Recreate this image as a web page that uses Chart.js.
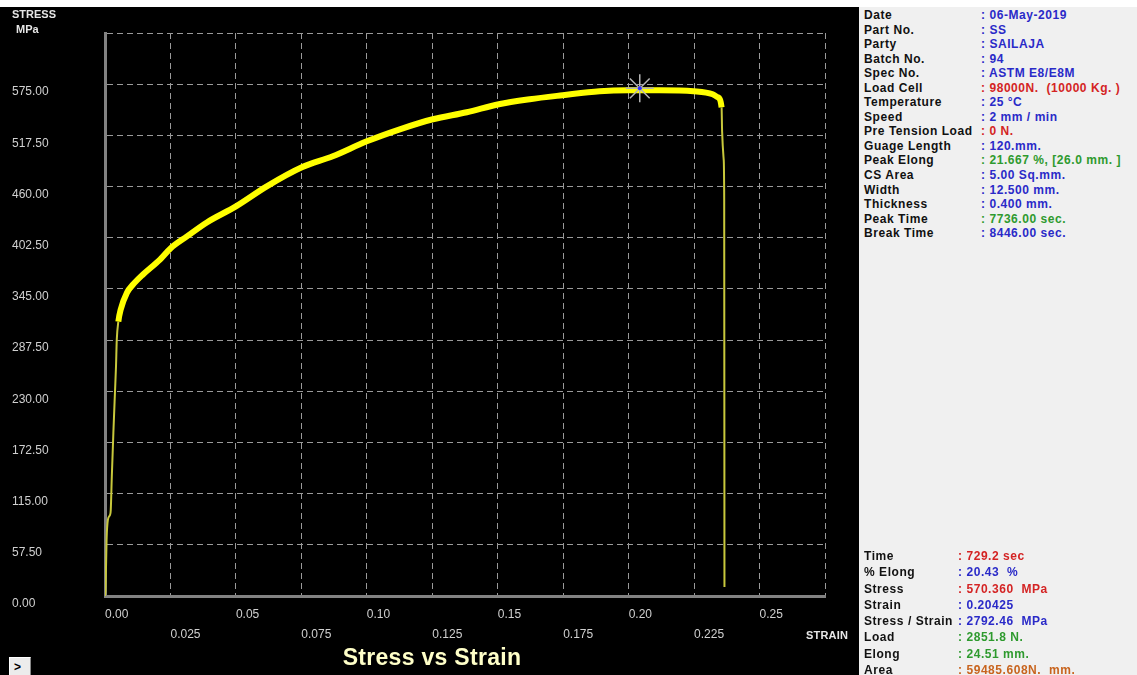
<!DOCTYPE html>
<html>
<head>
<meta charset="utf-8">
<script src="https://cdn.jsdelivr.net/npm/chart.js@4.4.1/dist/chart.umd.min.js"></script>
<style>
  html, body { margin: 0; padding: 0; background: #000; width: 1137px; height: 675px; overflow: hidden; }
  body { position: relative; font-family: "Liberation Sans", Arial, sans-serif; }
  #topstrip { position: absolute; left: 0; top: 0; width: 1137px; height: 7px; background: #fff; }
  #wrap { position: absolute; left: 0; top: 7px; width: 857px; height: 668px; background: #000; }
  .lbl { position: absolute; font-weight: bold; color: #e6e6e6; font-size: 11px; line-height: 12px; white-space: nowrap; }
  #title { position: absolute; left: 232px; width: 400px; top: 644px; text-align: center; font-size: 23px; font-weight: bold; color: #ffffc8; line-height: 26px; letter-spacing: 0.3px; }
  #btn { position: absolute; left: 9px; top: 657px; width: 22px; height: 18px; background: #ececec; border-top: 1px solid #fff; border-left: 1px solid #fff; border-right: 1px solid #888; font-weight: bold; font-size: 12px; line-height: 18px; padding-left: 4px; box-sizing: border-box; color: #000; }
  #panel { position: absolute; left: 859px; top: 7px; width: 278px; height: 668px; background: #f0f0f0; }
  .rows { position: absolute; left: 5px; font-size: 12px; font-weight: bold; letter-spacing: 0.55px; white-space: nowrap; }
  .row { position: relative; height: 14.55px; line-height: 14.55px; }
  .rows.bottom .row { height: 16.3px; line-height: 16.3px; }
  .k { position: absolute; left: 0; color: #111; }
  .v { position: absolute; color: #2a2ac8; }
  .top .v { left: 117px; }
  .bottom .v { left: 94px; }
  .red { color: #d42424 !important; }
  .green { color: #2e9a2e !important; }
  .orange { color: #c8641e !important; }
</style>
</head>
<body>
<div id="topstrip"></div>
<div id="wrap"><canvas id="myChart" width="857" height="668"></canvas></div>
<div class="lbl" style="left:12px; top:8px;">STRESS</div>
<div class="lbl" style="left:16px; top:23px;">MPa</div>
<div class="lbl" style="left:806px; top:629px; letter-spacing:0.2px;">STRAIN</div>
<div id="title">Stress vs Strain</div>
<div id="btn">&gt;</div>

<div id="panel">
  <div class="rows top" style="top:1px;">
    <div class="row"><span class="k">Date</span><span class="v">: 06-May-2019</span></div>
    <div class="row"><span class="k">Part No.</span><span class="v">: SS</span></div>
    <div class="row"><span class="k">Party</span><span class="v">: SAILAJA</span></div>
    <div class="row"><span class="k">Batch No.</span><span class="v">: 94</span></div>
    <div class="row"><span class="k">Spec No.</span><span class="v">: ASTM E8/E8M</span></div>
    <div class="row"><span class="k">Load Cell</span><span class="v red">: 98000N.&nbsp;&nbsp;(10000 Kg. )</span></div>
    <div class="row"><span class="k">Temperature</span><span class="v">: 25 &deg;C</span></div>
    <div class="row"><span class="k">Speed</span><span class="v">: 2 mm / min</span></div>
    <div class="row"><span class="k">Pre Tension Load</span><span class="v red">: 0 N.</span></div>
    <div class="row"><span class="k">Guage Length</span><span class="v">: 120.mm.</span></div>
    <div class="row"><span class="k">Peak Elong</span><span class="v green">: 21.667 %, [26.0 mm. ]</span></div>
    <div class="row"><span class="k">CS Area</span><span class="v">: 5.00 Sq.mm.</span></div>
    <div class="row"><span class="k">Width</span><span class="v">: 12.500 mm.</span></div>
    <div class="row"><span class="k">Thickness</span><span class="v">: 0.400 mm.</span></div>
    <div class="row"><span class="k">Peak Time</span><span class="v green">: 7736.00 sec.</span></div>
    <div class="row"><span class="k">Break Time</span><span class="v">: 8446.00 sec.</span></div>
  </div>
  <div class="rows bottom" style="top:541px;">
    <div class="row"><span class="k">Time</span><span class="v red">: 729.2 sec</span></div>
    <div class="row"><span class="k">% Elong</span><span class="v">: 20.43&nbsp;&nbsp;%</span></div>
    <div class="row"><span class="k">Stress</span><span class="v red">: 570.360&nbsp;&nbsp;MPa</span></div>
    <div class="row"><span class="k">Strain</span><span class="v">: 0.20425</span></div>
    <div class="row"><span class="k">Stress / Strain</span><span class="v">: 2792.46&nbsp;&nbsp;MPa</span></div>
    <div class="row"><span class="k">Load</span><span class="v green">: 2851.8 N.</span></div>
    <div class="row"><span class="k">Elong</span><span class="v green">: 24.51 mm.</span></div>
    <div class="row"><span class="k">Area</span><span class="v orange">: 59485.608N.&nbsp;&nbsp;mm.</span></div>
  </div>
</div>

<script>
// values
const strain = [0, 0.0002, 0.0006, 0.0011, 0.0019, 0.0022, 0.0026, 0.0032, 0.0038, 0.0042,
  0.0045, 0.0051, 0.0060, 0.0084, 0.0107, 0.0145, 0.0210, 0.0250, 0.0313, 0.0389,
  0.0500, 0.0618, 0.0752, 0.0870, 0.1000, 0.1126, 0.1252, 0.1382, 0.1504, 0.1622,
  0.1748, 0.1889, 0.2000, 0.2118, 0.2248, 0.2321, 0.2340, 0.2355, 0.2357, 0.2363,
  0.2365, 0.2366];
const stress = [0, 6.8, 63, 85.5, 91, 96.8, 133.9, 183.4, 228.4, 257.7,
  288, 308.3, 321.8, 340.9, 349.9, 361.2, 378, 390.5, 404, 419.7,
  437.7, 460.2, 481.6, 494, 510.8, 524.3, 535.6, 543.5, 552.5, 558.1,
  562.6, 567.1, 568.2, 568.2, 567.1, 563.7, 560.4, 549, 522, 490.6,
  445.6, 10.1];

const peakStrain = [0.20425];
const peakStress = [570.36];

const xTickLabels = ["0.00", "0.025", "0.05", "0.075", "0.10", "0.125", "0.15", "0.175", "0.20", "0.225", "0.25", ""];
const yTickLabels = ["0.00", "57.50", "115.00", "172.50", "230.00", "287.50", "345.00", "402.50", "460.00", "517.50", "575.00", ""];

const curve = strain.map((s, i) => ({ x: s, y: stress[i] }));
const peak = peakStrain.map((s, i) => ({ x: s, y: peakStress[i] }));

// elastic rise and the break are drawn thin, the plastic part thick
const isThin = (ctx) => ctx.p1.parsed.x <= 0.0051 || ctx.p0.parsed.x >= 0.2355;

const config = {
  type: "line",
  data: {
    datasets: [
      {
        data: curve,
        borderColor: "#ffff00",
        borderWidth: 6,
        pointRadius: 0,
        cubicInterpolationMode: "monotone",
        order: 2,
        segment: {
          borderWidth: (ctx) => (isThin(ctx) ? 2 : 6),
          borderColor: (ctx) => (isThin(ctx) ? "#c8c83c" : "#ffff00"),
        },
      },
      {
        type: "scatter",
        data: peak,
        pointStyle: "star",
        pointRadius: 14,
        borderColor: "#b4b4b4",
        borderWidth: 1.5,
        order: 1,
      },
      {
        type: "scatter",
        data: peak,
        pointRadius: 2,
        backgroundColor: "#3030ff",
        borderWidth: 0,
        order: 0,
      },
    ],
  },
  options: {
    responsive: false,
    animation: false,
    layout: {
      padding: { left: 12, top: 26, right: 32, bottom: 0 },
    },
    plugins: {
      legend: { display: false },
      tooltip: { enabled: false },
    },
    scales: {
      x: {
        type: "linear",
        min: 0,
        max: 0.275,
        afterFit: (scale) => { scale.height = 79; },
        grid: { color: "#9a9a9a", lineWidth: 1, drawTicks: false },
        border: { display: true, color: "#828282", width: 3, dash: [6, 4] },
        ticks: {
          stepSize: 0.025,
          autoSkip: false,
          maxRotation: 0,
          align: "start",
          padding: 9,
          color: "#d0d0d0",
          font: { family: "'Liberation Sans', Arial", size: 12, lineHeight: "20px" },
          callback: (value, index) => {
            const t = xTickLabels[index] || "";
            return index % 2 === 0 ? t : ["", t];
          },
        },
      },
      y: {
        min: 0,
        max: 632.5,
        afterFit: (scale) => { scale.width = 93; },
        grid: { color: "#9a9a9a", lineWidth: 1, drawTicks: false },
        border: { display: true, color: "#828282", width: 3, dash: [6, 4] },
        ticks: {
          stepSize: 57.5,
          autoSkip: false,
          crossAlign: "far",
          padding: 0,
          color: "#d0d0d0",
          font: { family: "'Liberation Sans', Arial", size: 12, lineHeight: "16px" },
          callback: (value, index) => ["", yTickLabels[index] || ""],
        },
      },
    },
  },
};

new Chart(document.getElementById("myChart").getContext("2d"), config);
</script>
</body>
</html>
